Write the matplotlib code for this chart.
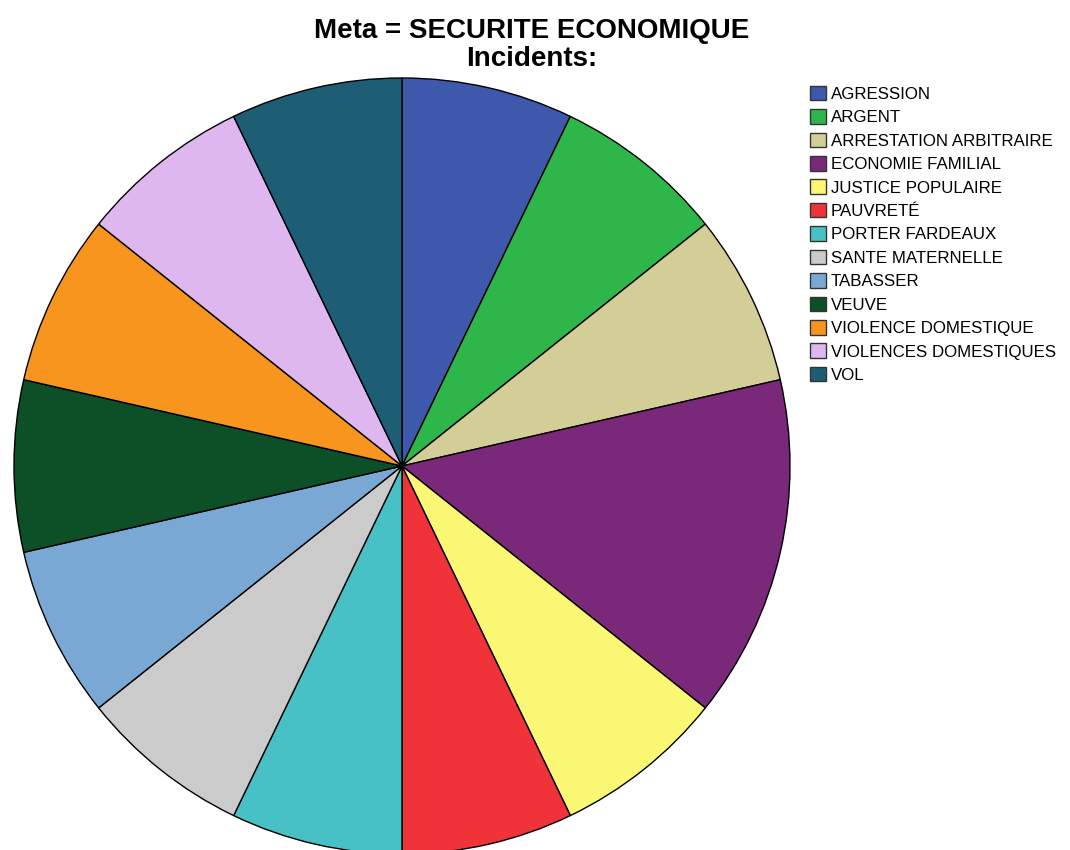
import matplotlib.pyplot as plt
from matplotlib.patches import Patch

plt.rcParams['font.family'] = ['Liberation Sans', 'DejaVu Sans']

labels = ["AGRESSION", "ARGENT", "ARRESTATION ARBITRAIRE", "ECONOMIE FAMILIAL",
          "JUSTICE POPULAIRE", "PAUVRETÉ", "PORTER FARDEAUX", "SANTE MATERNELLE",
          "TABASSER", "VEUVE", "VIOLENCE DOMESTIQUE", "VIOLENCES DOMESTIQUES", "VOL"]
counts = [1, 1, 1, 2, 1, 1, 1, 1, 1, 1, 1, 1, 1]
colors = ["#3E58AC", "#2FB64A", "#D3CD98", "#79287A", "#FAF775", "#EF3338",
          "#47C1C5", "#CBCBCB", "#7AA8D5", "#0D4F26", "#F7951F", "#DDB7EE", "#1D5E75"]

W, H = 1070, 850
fig = plt.figure(figsize=(W / 100, H / 100), dpi=100)
cx, cy, r = 402, 466, 388
ax = fig.add_axes([(cx - r) / W, (H - cy - r) / H, 2 * r / W, 2 * r / H])
ax.pie(counts, colors=colors, startangle=90, counterclock=False,
       wedgeprops=dict(edgecolor="black", linewidth=1))
ax.set_aspect("equal")
ax.set_xlim(-1, 1)
ax.set_ylim(-1, 1)
ax.axis("off")

fig.text(532 / W, 1 - 45 / H, "Meta = SECURITE ECONOMIQUE\nIncidents:", ha="center", va="center",
         fontsize=20, fontweight="bold", linespacing=1.13)

handles = [Patch(facecolor=c, edgecolor="#333333", linewidth=1) for c in colors]
fig.legend(handles, labels, loc="upper left", bbox_to_anchor=(803 / W, 1 - 79 / H),
           frameon=False, fontsize=12.2, handlelength=0.95, handleheight=0.95,
           handletextpad=0.3, labelspacing=0.43, borderaxespad=0)

fig.savefig("out.png", dpi=100)
